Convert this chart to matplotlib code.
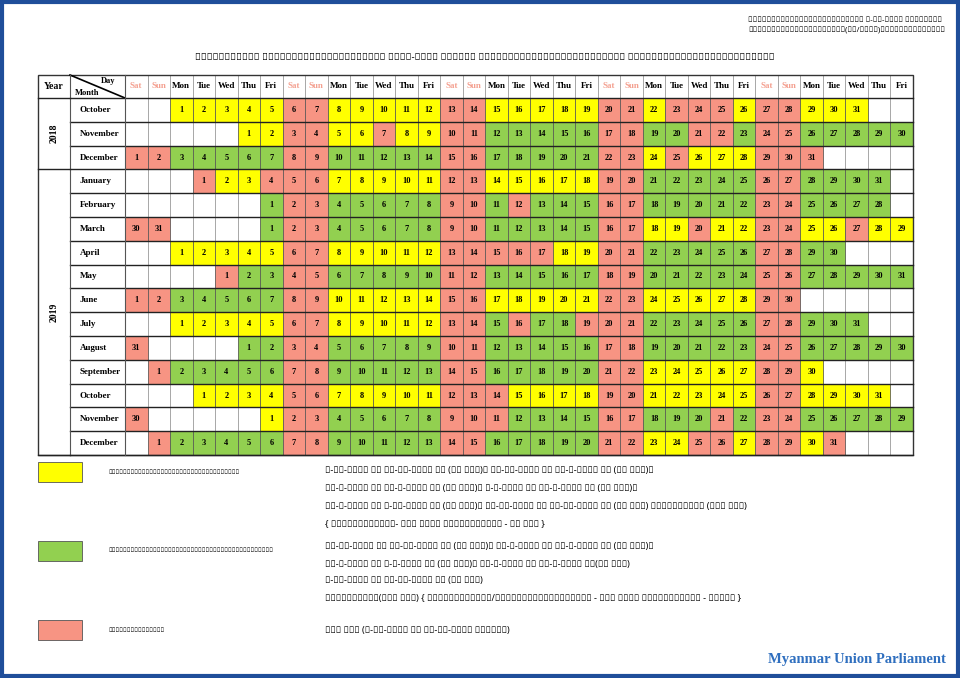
import datetime
import matplotlib.pyplot as plt
from matplotlib.patches import Rectangle

# calendar data: one code per day of month, Y = session, G = committee, R = holiday
months = [(2018, 10), (2018, 11), (2018, 12), (2019, 1), (2019, 2), (2019, 3), (2019, 4), (2019, 5),
          (2019, 6), (2019, 7), (2019, 8), (2019, 9), (2019, 10), (2019, 11), (2019, 12)]
month_names = ["October", "November", "December", "January", "February", "March", "April", "May",
               "June", "July", "August", "September", "October", "November", "December"]
day_codes = [
    "YYYYYRRYYYYYRRYYYYYRRYRRRYRRYYY",
    "YYRRYYRYYRRGGGGGRRGGRRGRRGGGGG",
    "RRGGGGGRRGGGGGRRGGGGGRRYRYYYRRR",
    "RYYRRRYYYYYRRYYYYYRRGGGGGRRGGGG",
    "GRRGGGGGRRGRGGGRRGGGGGRRGGGG",
    "GRRGGGGGRRGGGGGRRYYRYYRRYYRYYRR",
    "YYYYYRRYYYYYRRRRRYYRRGGGGGRRGG",
    "RGGRRGGGGGRRGGGGGRRGGGGGRRGGGGG",
    "RRGGGGGRRYYYYYRRYYYYYRRYYYYYRR",
    "YYYYYRRYYYYYRRGRGGRRRGGGGGRRGGG",
    "GGRRGGGGGRRGGGGGRRGGGGGRRGGGGGR",
    "RGGGGGRRGGGGGRRGGGGGRRYYYYYRRY",
    "YYYYRRYYYYYRRRYYYYRRYYYYYRRYYYY",
    "YRRGGGGGRRRGGGGRRGGGRGRRGGGGGR",
    "RGGGGGRRGGGGGRRGGGGGRRYYRRYRRYR",
]
weekdays = ["Sat", "Sun", "Mon", "Tue", "Wed", "Thu", "Fri"]
years = [("2018", 0, 3), ("2019", 3, 15)]

colors = {"Y": "#FFFF00", "G": "#92D050", "R": "#F79483"}
serif = "Liberation Serif"
mm = ["Noto Sans", "DejaVu Sans"]

title = "ဒုတိယအကြိမ် ပြည်ထောင်စုလွှတ်တော်၊ ၂၀၁၈-၂၀၁၉ ခုနှစ် ပုံမှန်အစည်းအဝေးများနှင့် ရုံးပိတ်ရက်များလျာထားချက်"
note = ["ပြည်ထောင်စုလွှတ်တော်ရုံး၏ ၂-၁၁-၂၀၁၈ ရက်စွဲပါ",
        "အမိန့်ကြော်ငြာစာအမှတ်(၇၆/၂၀၁၈)အရထုတ်ပြန်သည်။"]
legend_labels = ["လွှတ်တော်အစည်းအဝေးရပ်နားမည့်ရက်များ",
                 "လွှတ်တော်အစည်းအဝေးကျင်းပရန်လျာထားသည့်ရက်များ",
                 "ရုံးပိတ်ရက်များ"]
legend_lines = [
    ["၁-၁၀-၂၀၁၈ မှ ၁၁-၁၁-၂၀၁၈ ထိ (၄၂ ရက်)၊ ၂၂-၁၂-၂၀၁၈ မှ ၂၀-၁-၂၀၁၉ ထိ (၃၀ ရက်)၊",
     "၁၆-၃-၂၀၁၉ မှ ၂၁-၄-၂၀၁၉ ထိ (၃၇ ရက်)၊ ၈-၆-၂၀၁၉ မှ ၁၄-၇-၂၀၁၉ ထိ (၃၇ ရက်)၊",
     "၂၁-၉-၂၀၁၉ မှ ၃-၁၁-၂၀၁၉ ထိ (၄၄ ရက်)၊ ၂၁-၁၂-၂၀၁၉ မှ ၃၁-၁၂-၂၀၁၉ ထိ (၁၁ ရက်) စုစုပေါင်း (၂၀၁ ရက်)",
     "{ ရုံးဖွင့်ရက်- ၁၂၀ ရက်၊ ရုံးပိတ်ရက် - ၈၁ ရက် }"],
    ["၁၂-၁၁-၂၀၁၈ မှ ၂၁-၁၂-၂၀၁၈ ထိ (၄၀ ရက်)၊ ၂၁-၁-၂၀၁၉ မှ ၁၅-၃-၂၀၁၉ ထိ (၅၄ ရက်)၊",
     "၂၂-၄-၂၀၁၉ မှ ၇-၆-၂၀၁၉ ထိ (၄၇ ရက်)၊ ၁၅-၇-၂၀၁၉ မှ ၂၀-၉-၂၀၁၉ ထိ(၆၈ ရက်)",
     "၄-၁၁-၂၀၁၉ မှ ၂၀-၁၂-၂၀၁၉ ထိ (၄၇ ရက်)",
     "စုစုပေါင်း(၂၅၆ ရက်) { ရုံးဖွင့်ရက်/အစည်းအဝေးကျင်းပရက် - ၁၈၂ ရက်၊ ရုံးပိတ်ရက် - ၇၄ရက် }"],
    ["၁၅၄ ရက် (၁-၁၀-၂၀၁၈ မှ ၃၁-၁၂-၂၀၁၉ အတွင်း)"],
]

# layout in pixels
x0, x_month, x_days, x1 = 38, 70, 125, 913
y0, y_head = 75, 98
ncol = 35
cw = (x1 - x_days) / ncol
rh = 23.8

fig = plt.figure(figsize=(9.6, 6.78), dpi=100)
ax = fig.add_axes([0, 0, 1, 1])
ax.set_xlim(0, 960)
ax.set_ylim(678, 0)
ax.axis("off")

# blue frame
ax.add_patch(Rectangle((2, 2), 956, 674, fill=False, ec="#1F4E9A", lw=3))

ax.text(485, 57, title, ha="center", va="center", fontsize=7, family=mm, weight="bold")
for i, s in enumerate(note):
    ax.text(748, 20 + i * 11, s, ha="left", va="center", fontsize=5.5, family=mm, weight="bold")

# header
ax.text((x0 + x_month) / 2, (y0 + y_head) / 2, "Year", ha="center", va="center", fontsize=7, family=serif, weight="bold")
ax.plot([x_month, x_days], [y0, y_head], color="black", lw=1.2)
ax.text(x_days - 10, y0 + 6, "Day", ha="right", va="center", fontsize=6, family=serif, weight="bold")
ax.text(x_month + 5, y_head - 5, "Month", ha="left", va="center", fontsize=6, family=serif, weight="bold")
for c in range(ncol):
    wd = weekdays[c % 7]
    col = "#F4A090" if wd in ("Sat", "Sun") else "black"
    ax.text(x_days + (c + 0.5) * cw, (y0 + y_head) / 2, wd, ha="center", va="center",
            fontsize=6.5, family=serif, weight="bold", color=col)

# day cells
for r, ((yr, mo), codes) in enumerate(zip(months, day_codes)):
    top = y_head + r * rh
    ax.text(x_month + 10, top + rh / 2, month_names[r], ha="left", va="center",
            fontsize=6.5, family=serif, weight="bold")
    start = (datetime.date(yr, mo, 1).weekday() + 2) % 7
    for d, code in enumerate(codes):
        c = (start + d) % ncol
        left = x_days + c * cw
        ax.add_patch(Rectangle((left, top), cw, rh, fc=colors[code], ec="#555555", lw=0.5))
        ax.text(left + cw / 2, top + rh / 2, str(d + 1), ha="center", va="center",
                fontsize=6, family=serif, weight="bold")

y_end = y_head + len(months) * rh
# grid
for c in range(ncol + 1):
    x = x_days + c * cw
    ax.plot([x, x], [y0, y_end], color="#999999", lw=0.6, zorder=0.5)
for r in range(len(months) + 1):
    y = y_head + r * rh
    ax.plot([x_month, x1], [y, y], color="#222222", lw=1.0)
ax.plot([x_month, x_month], [y0, y_end], color="#555555", lw=0.8)
ax.plot([x_days, x_days], [y0, y_end], color="#555555", lw=0.8)
ax.add_patch(Rectangle((x0, y0), x1 - x0, y_end - y0, fill=False, ec="#333333", lw=1.0))
ax.plot([x0, x_month], [y_head, y_head], color="#222222", lw=1.0)
for name, r0, r1 in years:
    ax.text((x0 + x_month) / 2, y_head + (r0 + r1) / 2 * rh, name, ha="center", va="center",
            rotation=90, fontsize=7, family=serif, weight="bold")
    ax.plot([x0, x_month], [y_head + r1 * rh] * 2, color="#222222", lw=1.0)

# legend
box_y = [462, 541, 620]
line_y = [[471, 489, 507, 524], [547, 564, 581, 598], [630]]
for i, code in enumerate("YGR"):
    ax.add_patch(Rectangle((38, box_y[i]), 44, 20, fc=colors[code], ec="#555555", lw=0.6))
    ax.text(108, box_y[i] + 10, legend_labels[i], ha="left", va="center", fontsize=4.5, family=mm, weight="bold")
    for s, y in zip(legend_lines[i], line_y[i]):
        ax.text(325, y, s, ha="left", va="center", fontsize=6.5, family=mm)

ax.text(946, 660, "Myanmar Union Parliament", ha="right", va="center", fontsize=10.5,
        family=serif, weight="bold", color="#2F6FBF")

fig.savefig("out.png", dpi=100)
